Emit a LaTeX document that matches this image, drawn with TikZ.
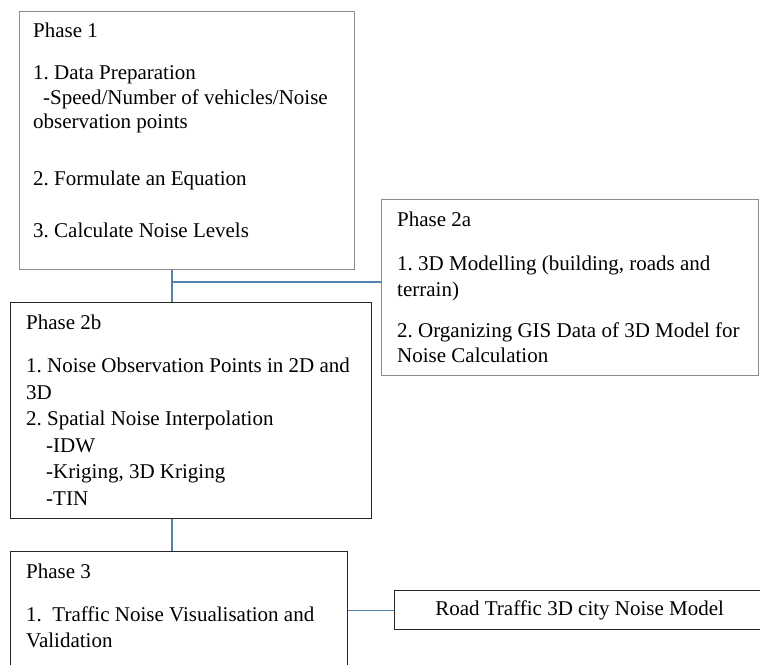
\documentclass[tikz,border=0pt]{standalone}
\usepackage{fontspec}
\setmainfont{LiberationSerif}[Extension=.ttf, UprightFont=*-Regular, BoldFont=*-Bold]
\frenchspacing
\usepackage{tikz}
\usetikzlibrary{positioning}
\definecolor{linkblue}{RGB}{84,130,175}

\begin{document}
\begin{tikzpicture}[x=1pt,y=-1pt,
        box/.style={draw=black!85, line width=1.3pt, anchor=north west, inner sep=0pt},
        softbox/.style={box, draw=black!45},
        txt/.style={inner sep=0pt, align=left, font=\fontsize{21}{26}\selectfont},
        link/.style={draw=linkblue, line width=1.3pt}]
        \useasboundingbox (0,0) rectangle (760,664); % page size
        % boxes
        \node[softbox, minimum width=335pt, minimum height=258pt] (ph1) at (19,11) {};
        \node[softbox, minimum width=377pt, minimum height=176pt] (ph2a) at (381,199) {};
        \node[box, minimum width=361pt, minimum height=216pt] (ph2b) at (10,302) {};
        \node[box, minimum width=337pt, minimum height=130pt] (ph3) at (10,551) {};
        \node[box, minimum width=370pt, minimum height=39pt, font=\fontsize{21}{26}\selectfont] (road) at (394,590) {Road Traffic 3D city Noise Model};
        % texts
        \node[txt, font=\fontsize{21}{24.5}\selectfont, below right=11.7pt and 14pt of ph1.north west] (ph1txt)
        {Phase 1\\[18pt]
        1. Data Preparation\\
        \hspace*{10pt}-Speed/Number of vehicles/Noise\\
        observation points\\[32pt]
        2. Formulate an Equation\\[28pt]
        3. Calculate Noise Levels};
        \node[txt, font=\fontsize{21}{25.5}\selectfont, below right=13pt and 16pt of ph2a.north west] (ph2atxt)
        {Phase 2a\\[18.5pt]
        1. 3D Modelling (building, roads and\\
        terrain)\\[15.5pt]
        2. Organizing GIS Data of 3D Model for\\
        Noise Calculation};
        \node[txt, font=\fontsize{21}{26.5}\selectfont, below right=13pt and 16pt of ph2b.north west] (ph2btxt)
        {Phase 2b\\[16.5pt]
        1. Noise Observation Points in 2D and\\
        3D\\
        2. Spatial Noise Interpolation\\
        \hspace*{20pt}-IDW\\
        \hspace*{20pt}-Kriging, 3D Kriging\\
        \hspace*{20pt}-TIN};
        \node[txt, below right=13pt and 16pt of ph3.north west] (ph3txt)
        {Phase 3\\[17pt]
        1.\ \ Traffic Noise Visualisation and\\
        Validation};
        % connectors
        \coordinate (joint) at (172,282);
        \draw[link] (ph1.south -| joint) -- (ph2b.north -| joint);
        \draw[link] (joint) -- (joint -| ph2a.west);
        \draw[link] (ph2b.south -| joint) -- (ph3.north -| joint);
        \draw[link] (road.west) -- (road.west -| ph3.east);
    \end{tikzpicture}
\end{document}
